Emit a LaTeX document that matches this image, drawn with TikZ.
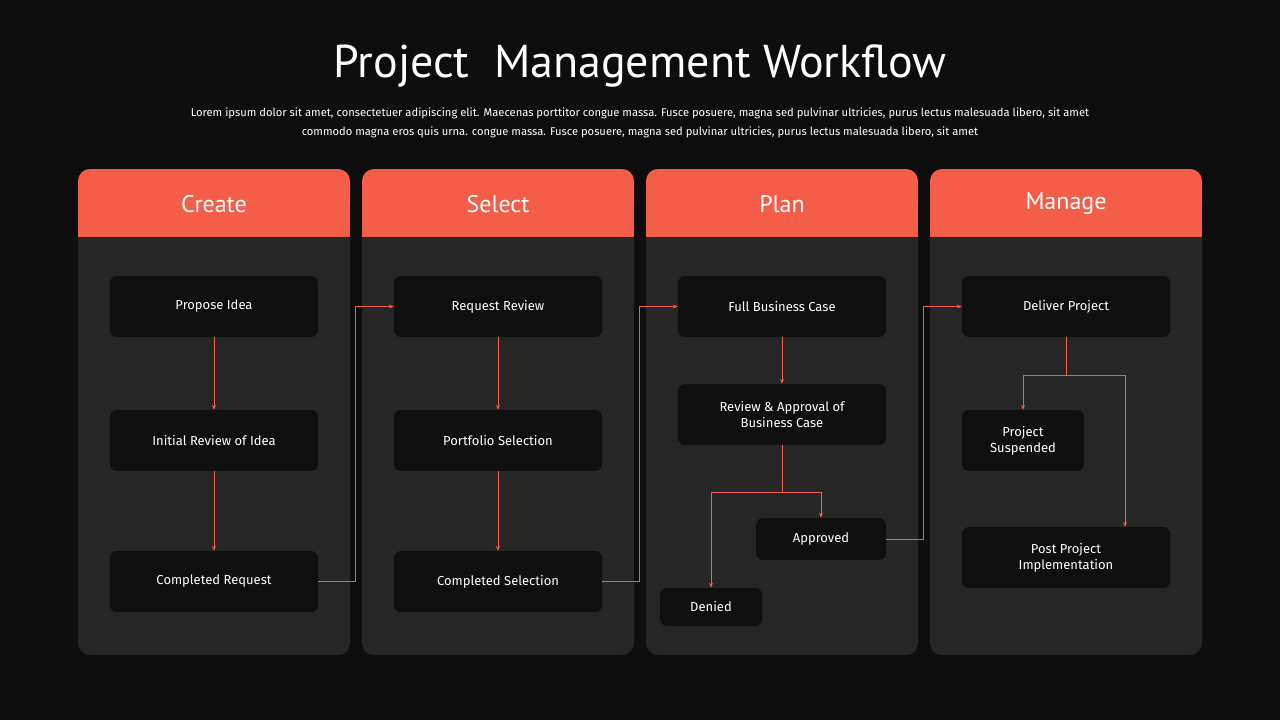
\documentclass[tikz,border=0pt]{standalone}
\usepackage{fontspec}
\setmainfont{Fira Sans}
\newfontfamily\titlefont{PT Sans}
\usetikzlibrary{arrows.meta}
\definecolor{bgdark}{HTML}{0D0D0D}
\definecolor{panel}{HTML}{262626}
\definecolor{boxdark}{HTML}{0F0F0F}
\definecolor{accent}{HTML}{F45D48}
\tikzset{
  stepbox/.style={fill=boxdark, rounded corners=7pt, text=white, font=\fontsize{13}{16}\selectfont, align=center, inner sep=0pt},
  link/.style={draw=accent, line width=0.9pt, -{Stealth[length=5pt,width=4pt]}},
  headtxt/.style={text=white, font=\titlefont\fontsize{24}{28}\selectfont}
}
\begin{document}
\begin{tikzpicture}[x=1pt, y=-1pt]
	\fill[bgdark] (0,0) rectangle (1280,720);
	\useasboundingbox (0,0) rectangle (1280,720);
	\node[text=white, font=\titlefont\fontsize{46}{50}\selectfont] (title) at (640,66) {Project\ \ Management Workflow};
	\node[text=white, align=center, font=\fontsize{11.2}{19}\selectfont] (lead) at (640,123) {Lorem ipsum dolor sit amet, consectetuer adipiscing elit. Maecenas porttitor congue massa. Fusce posuere, magna sed pulvinar ultricies, purus lectus malesuada libero, sit amet\\ commodo magna eros quis urna. congue massa. Fusce posuere, magna sed pulvinar ultricies, purus lectus malesuada libero, sit amet};
	% panels with orange headers
	\foreach \x/\name/\lbl in {78/create/Create, 362/select/Select, 646/plan/Plan, 930/manage/Manage} {
		\fill[panel, rounded corners=12pt] (\x,169) rectangle (\x+272,655);
		\fill[accent, rounded corners=12pt] (\x,169) rectangle (\x+272,215);
		\fill[accent] (\x,200) rectangle (\x+272,237);
		\node[headtxt] (\name) at (\x+136,204) {\lbl};
	}
	% Create
	\node[stepbox, minimum width=208pt, minimum height=61pt] (propose) at (214,306.5) {Propose Idea};
	\node[stepbox, minimum width=208pt, minimum height=61pt] (initial) at (214,440.5) {Initial Review of Idea};
	\node[stepbox, minimum width=208pt, minimum height=61pt] (request) at (214,581.5) {Completed Request};
	% Select
	\node[stepbox, minimum width=208pt, minimum height=61pt] (review) at (498,306.5) {Request Review};
	\node[stepbox, minimum width=208pt, minimum height=61pt] (portfolio) at (498,440.5) {Portfolio Selection};
	\node[stepbox, minimum width=208pt, minimum height=61pt] (selection) at (498,581.5) {Completed Selection};
	% Plan
	\node[stepbox, minimum width=208pt, minimum height=61pt] (business) at (782,306.5) {Full Business Case};
	\node[stepbox, minimum width=208pt, minimum height=61pt] (approval) at (782,414.5) {Review \& Approval of\\ Business Case};
	\node[stepbox, minimum width=130pt, minimum height=42pt] (approved) at (821,539) {Approved};
	\node[stepbox, minimum width=102pt, minimum height=38pt] (denied) at (711,607) {Denied};
	% Manage
	\node[stepbox, minimum width=208pt, minimum height=61pt] (deliver) at (1066,306.5) {Deliver Project};
	\node[stepbox, minimum width=122pt, minimum height=61pt] (suspended) at (1023,440.5) {Project\\ Suspended};
	\node[stepbox, minimum width=208pt, minimum height=61pt] (post) at (1066,557.5) {Post Project\\ Implementation};
	% connectors
	\draw[link] (propose) -- (initial);
	\draw[link] (initial) -- (request);
	\draw[link] (request.east) -- ++(37,0) |- (review.west);
	\draw[link] (review) -- (portfolio);
	\draw[link] (portfolio) -- (selection);
	\draw[link] (selection.east) -- ++(37,0) |- (business.west);
	\draw[link] (business) -- (approval);
	\draw[link] (approval.south) -- ++(0,47) -| (approved.north);
	\draw[link] (approval.south) -- ++(0,47) -| (denied.north);
	\draw[link] (approved.east) -- ++(37,0) |- (deliver.west);
	\draw[link] (deliver.south) -- ++(0,38) -| (suspended.north);
	\draw[link] (deliver.south) -- ++(0,38) -| ([xshift=59pt]post.north);
\end{tikzpicture}
\end{document}
